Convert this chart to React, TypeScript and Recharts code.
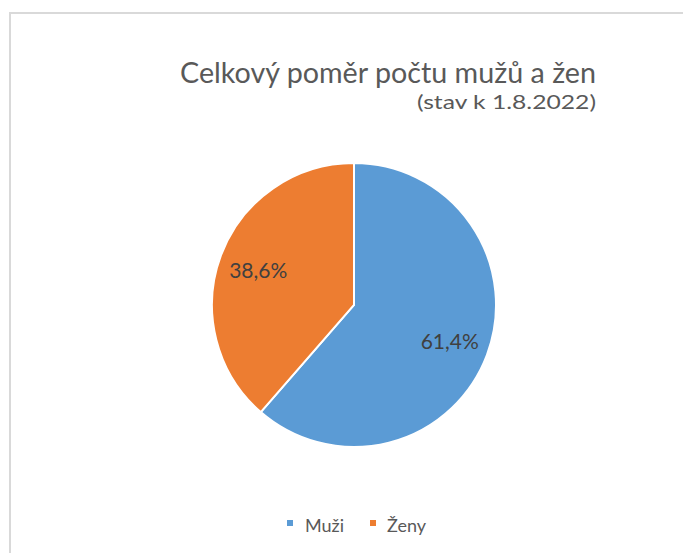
import React from "react";
import { PieChart, Pie, Cell, Legend } from "recharts";

const categories = ["Muži", "Ženy"];
const shares = [61.4, 38.6];
const colors = ["#5B9BD5", "#ED7D31"];
const titleText = "Celkový poměr počtu mužů a žen";
const subtitleText = "(stav k 1.8.2022)";

const data = categories.map((name, i) => ({ name, value: shares[i] }));

const W = 683;
const H = 545;
const FONT = "Lato, 'Open Sans', sans-serif";
const RADIAN = Math.PI / 180;

const fmt = (v: number) => v.toFixed(1).replace(".", ",") + "%";

const renderLabel = (props: any) => {
  const { cx, cy, midAngle, outerRadius, value } = props;
  const r = outerRadius * 0.72;
  const x = cx + r * Math.cos(-midAngle * RADIAN);
  const y = cy + r * Math.sin(-midAngle * RADIAN);
  return (
    <text
      x={x}
      y={y}
      fill="#404040"
      fontFamily={FONT}
      fontSize={21}
      textAnchor="middle"
      dominantBaseline="central"
    >
      {fmt(value)}
    </text>
  );
};

const renderLegend = () => {
  const items = [
    { sq: 279, tx: 297 },
    { sq: 362, tx: 379 },
  ];
  return (
    <svg width={W} height={40} style={{ display: "block" }}>
      {categories.map((c, i) => (
        <g key={c}>
          <rect x={items[i].sq} y={12} width={6} height={6} fill={colors[i]} />
          <text
            x={items[i].tx}
            y={24}
            fontFamily={FONT}
            fontSize={18}
            fill="#595959"
          >
            {c}
          </text>
        </g>
      ))}
    </svg>
  );
};

export default function App() {
  return (
    <div style={{ position: "relative", width: W, height: H, overflow: "hidden", background: "#fff" }}>
      <div
        style={{
          position: "absolute",
          left: 1,
          top: 4,
          width: W + 20,
          height: H + 20,
          borderLeft: "2px solid #d9d9d9",
          borderTop: "2px solid #d9d9d9",
          pointerEvents: "none",
        }}
      />
      <PieChart
        width={W}
        height={H}
        margin={{ top: 0, right: 0, bottom: 0, left: 0 }}
        style={{ position: "absolute", left: 0, top: 0 }}
      >
        <text x={588} y={75} textAnchor="end" fontFamily={FONT} fontSize={28} fill="#595959" textLength={416} lengthAdjust="spacingAndGlyphs">
          {titleText}
        </text>
        <text x={588} y={101} textAnchor="end" fontFamily={FONT} fontSize={20} fill="#595959" textLength={179} lengthAdjust="spacingAndGlyphs">
          {subtitleText}
        </text>
        <Pie
          data={data}
          dataKey="value"
          nameKey="name"
          cx={346}
          cy={297}
          outerRadius={142}
          startAngle={90}
          endAngle={-270}
          stroke="#ffffff"
          strokeWidth={2}
          label={renderLabel}
          labelLine={false}
          isAnimationActive={false}
        >
          {data.map((d, i) => (
            <Cell key={d.name} fill={colors[i]} />
          ))}
        </Pie>
        <Legend
          content={renderLegend}
          wrapperStyle={{ position: "absolute", left: 0, top: 500, width: W, height: 40 }}
        />
      </PieChart>
    </div>
  );
}
